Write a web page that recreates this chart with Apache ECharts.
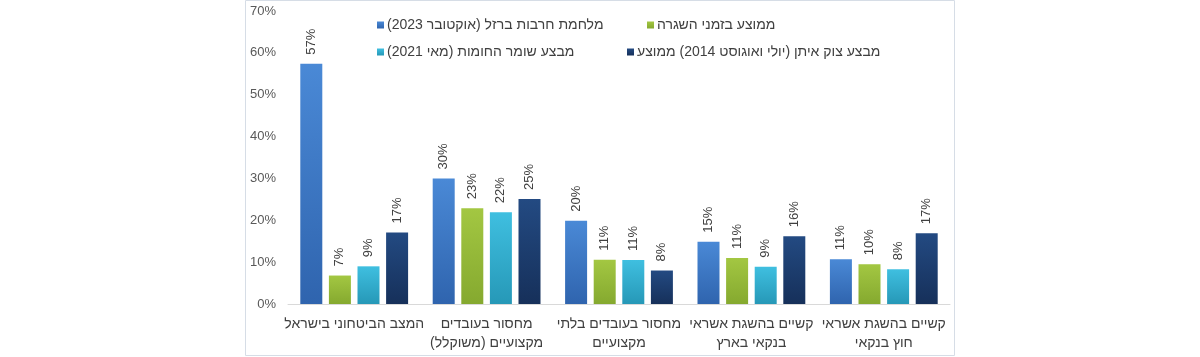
<!DOCTYPE html>
<html>
<head>
<meta charset="utf-8">
<script src="https://cdn.jsdelivr.net/npm/echarts@6/dist/echarts.min.js"></script>
<style>
html,body{margin:0;padding:0;background:#fff;}
#c{width:1200px;height:357px;direction:rtl;}
</style>
</head>
<body>
<div id="c"></div>
<script>
const categories = [
  'המצב הביטחוני בישראל',
  'מחסור בעובדים\nמקצועיים (משוקלל)',
  'מחסור בעובדים בלתי\nמקצועיים',
  'קשיים בהשגת אשראי\nבנקאי בארץ',
  'קשיים בהשגת אשראי\nחוץ בנקאי'
];
const seriesNames = [
  'מלחמת חרבות ברזל (אוקטובר 2023)',
  'ממוצע בזמני השגרה',
  'מבצע שומר החומות (מאי 2021)',
  'מבצע צוק איתן (יולי ואוגוסט 2014) ממוצע'
];
const warIronSwords = [57.4, 30.0, 19.9, 14.9, 10.7];
const routineAvg = [6.8, 22.9, 10.6, 11.0, 9.5];
const guardianWalls = [9.0, 21.9, 10.5, 8.9, 8.3];
const protectiveEdge = [17.1, 25.1, 8.0, 16.2, 16.9];
const yTicks = [0, 10, 20, 30, 40, 50, 60, 70];

const colors = [
  ['#4a89d6', '#2f64ae'],
  ['#a3c742', '#85a92f'],
  ['#3fbfe0', '#2698b7'],
  ['#234a82', '#16305a']
];
const seriesData = [warIronSwords, routineAvg, guardianWalls, protectiveEdge];
const FONT = '"Liberation Sans", "DejaVu Sans", Arial, sans-serif';

function grad(c) {
  return new echarts.graphic.LinearGradient(0, 0, 0, 1, [
    {offset: 0, color: c[0]}, {offset: 1, color: c[1]}
  ]);
}

const legendPos = [
  {left: 377, top: 18},
  {left: 647, top: 18},
  {left: 377, top: 45},
  {left: 627, top: 45}
];

const chart = echarts.init(document.getElementById('c'), null, {renderer: 'canvas'});
chart.setOption({
  animation: false,
  backgroundColor: '#ffffff',
  textStyle: {fontFamily: FONT},
  graphic: [{
    type: 'rect',
    shape: {x: 245.5, y: 0.5, width: 709, height: 355},
    style: {fill: 'none', stroke: '#d6dde6', lineWidth: 1},
    silent: true, z: -1
  }],
  legend: seriesNames.map((n, i) => ({
    data: [n],
    left: legendPos[i].left,
    top: legendPos[i].top,
    icon: 'rect',
    itemWidth: 7,
    itemHeight: 7,
    itemGap: 0,
    padding: 0,
    textStyle: {fontFamily: FONT, fontSize: 14, color: '#404040', padding: [0, 0, 0, -2]}
  })),
  grid: {left: 288, right: 250, top: 11, bottom: 53, containLabel: false},
  xAxis: {
    type: 'category',
    data: categories,
    axisLine: {show: true, lineStyle: {color: '#d9d9d9', width: 1}},
    axisTick: {show: false},
    axisLabel: {
      interval: 0, margin: 11, fontFamily: FONT, fontSize: 14, color: '#404040',
      lineHeight: 19, align: 'center'
    }
  },
  yAxis: {
    type: 'value',
    min: 0, max: 70, interval: 10,
    splitLine: {show: false},
    axisLine: {show: false},
    axisTick: {show: false},
    axisLabel: {
      margin: 12, fontFamily: FONT, fontSize: 13, color: '#595959',
      formatter: v => yTicks.includes(v) ? v + '%' : ''
    }
  },
  series: seriesNames.map((n, i) => ({
    name: n,
    type: 'bar',
    data: seriesData[i],
    barWidth: 22,
    barGap: '30%',
    itemStyle: {color: grad(colors[i])},
    label: {
      show: true,
      position: 'top',
      rotate: 90,
      align: 'left',
      verticalAlign: 'middle',
      distance: 9,
      fontFamily: FONT,
      fontSize: 13,
      color: '#404040',
      formatter: p => Math.round(p.value) + '%'
    }
  }))
});
</script>
</body>
</html>
